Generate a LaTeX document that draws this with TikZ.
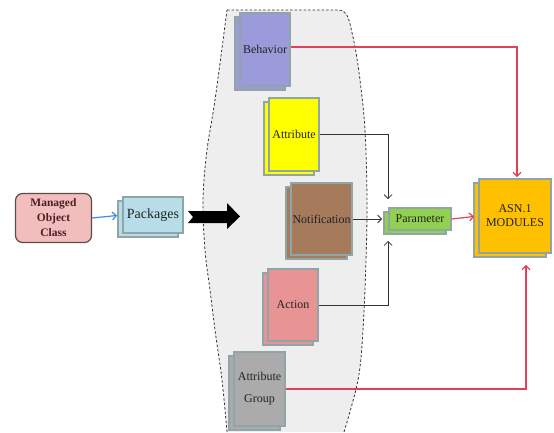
\documentclass[tikz,border=0pt]{standalone}
\usepackage{fontspec}
\setmainfont{Liberation Serif}
\usetikzlibrary{arrows.meta,shadows}
\definecolor{regfill}{HTML}{EEEEEE}
\definecolor{docborder}{HTML}{8FA5A7}
\definecolor{behfill}{HTML}{9B9BDB}
\definecolor{attrfill}{HTML}{FFFF00}
\definecolor{notiffill}{HTML}{A57B5C}
\definecolor{actfill}{HTML}{E99494}
\definecolor{agfill}{HTML}{ABABAB}
\definecolor{parfill}{HTML}{92D050}
\definecolor{asnfill}{HTML}{FFC000}
\definecolor{pkgfill}{HTML}{B7DEE8}
\definecolor{mocfill}{HTML}{F2BDBD}
\definecolor{mocborder}{HTML}{5E4B4B}
\definecolor{moctext}{HTML}{4D1F24}
\definecolor{redline}{HTML}{E04058}
\definecolor{blueline}{HTML}{3A8FD8}
\definecolor{darkline}{HTML}{333333}
\definecolor{txt}{HTML}{222222}
\tikzset{
  docbox/.style={draw=docborder, line width=1.8pt, inner sep=0pt, align=center,
    font=\fontsize{12}{15}\selectfont, text=txt,
    copy shadow={shadow xshift=-5pt, shadow yshift=-4pt}},
  redconn/.style={draw=redline, line width=1.2pt, -{Straight Barb[length=4pt,width=8pt]}},
  blkconn/.style={draw=darkline, line width=0.8pt, -{Straight Barb[length=4pt,width=8pt]}},
  bluconn/.style={draw=blueline, line width=1.2pt, -{Straight Barb[length=4pt,width=8pt]}},
}
\begin{document}
\begin{tikzpicture}[x=1pt,y=-1pt]
\useasboundingbox (0,0) rectangle (554,432);
% region
\path[fill=regfill] (227,10) -- (338,10) .. controls (346,10) and (348,16) .. (350,24)
  -- plot[smooth, tension=0.6] coordinates {(350,24) (355,47) (360,80) (365,130) (367,200) (366,260) (363,330) (358,380) (344,432)}
  -- (227,432)
  -- plot[smooth, tension=0.6] coordinates {(227,432) (222,380) (215,330) (210,290) (205,250) (203,200) (207,150) (215,100) (227,10)} -- cycle;
\draw[darkline, line width=0.8pt, dash pattern=on 2.5pt off 2pt] (227,10) -- (338,10) .. controls (346,10) and (348,16) .. (350,24)
  -- plot[smooth, tension=0.6] coordinates {(350,24) (355,47) (360,80) (365,130) (367,200) (366,260) (363,330) (358,380) (344,432)};
\draw[darkline, line width=0.8pt, dash pattern=on 2.5pt off 2pt]
  plot[smooth, tension=0.6] coordinates {(227,432) (222,380) (215,330) (210,290) (205,250) (203,200) (207,150) (215,100) (227,10)};

% nodes
\node[draw=mocborder, fill=mocfill, line width=1.2pt, rounded corners=7pt,
  minimum width=76pt, minimum height=49pt, inner sep=0pt, align=center,
  font=\bfseries\fontsize{11.5}{15}\selectfont, text=moctext] (moc) at (53.5,218) {Managed\\Object\\Class};
\node[docbox, fill=pkgfill, minimum width=60pt, minimum height=36pt,
  font=\fontsize{14}{16}\selectfont] (pkg) at (153,215) {Packages};
\node[docbox, fill=behfill, minimum width=50pt, minimum height=73pt] (beh) at (265,49.5) {Behavior};
\node[docbox, fill=attrfill, minimum width=50pt, minimum height=73pt] (attr) at (294,134.5) {Attribute};
\node[docbox, fill=notiffill, minimum width=61pt, minimum height=72pt] (notif) at (321.5,219) {Notification};
\node[docbox, fill=actfill, minimum width=50pt, minimum height=72pt] (act) at (293,305) {Action};
\node[docbox, fill=agfill, minimum width=51pt, minimum height=74pt,
  font=\fontsize{12}{22}\selectfont] (ag) at (259.5,389) {Attribute\\Group};
\node[docbox, fill=parfill, minimum width=62pt, minimum height=22pt] (par) at (420,219) {Parameter};
\node[docbox, fill=asnfill, minimum width=72pt, minimum height=74pt,
  font=\fontsize{12}{14}\selectfont] (asn) at (515,216) {ASN.1\\MODULES};

% big arrow
\fill[black] (188,211) -- (227,211) -- (227,203) -- (240,216.5) -- (227,229) -- (227,223) -- (188,223) -- (193,217) -- cycle;

% connectors
\draw[bluconn, shorten >=5pt] (moc.east) -- (pkg.west);
\draw[redconn, shorten >=1pt] (beh.east |- 0,47) -| ([xshift=2pt]asn.north);
\draw[blkconn, shorten >=8pt] (attr.east) -| (par.north west);
\draw[blkconn, shorten >=6pt] (notif.east) -- (par.west);
\draw[blkconn, shorten >=10pt] (act.east) -| (par.south west);
\draw[redconn, shorten >=4pt] (par.east) -- (asn.west);
\draw[redconn, shorten >=11pt] (ag.east) -| ([xshift=11pt]asn.south);
\end{tikzpicture}
\end{document}
